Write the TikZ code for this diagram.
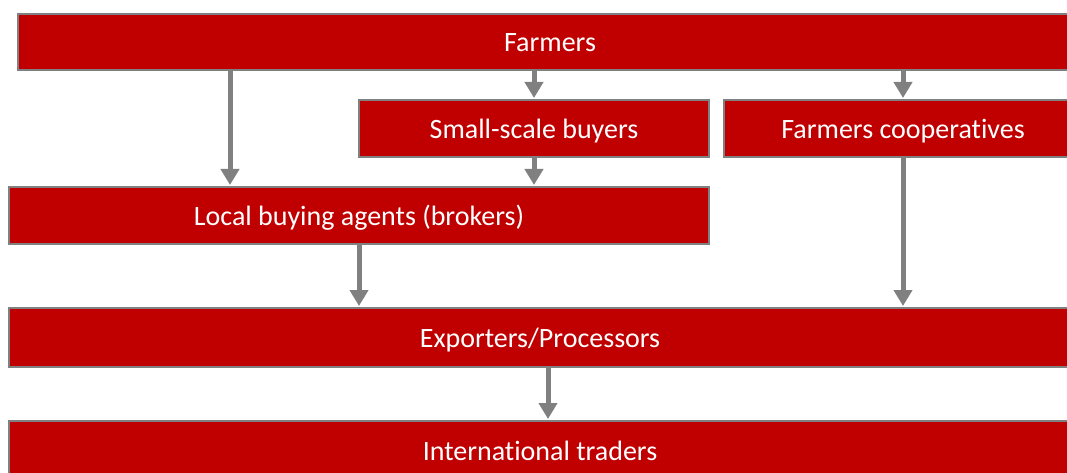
\documentclass[tikz,border=0pt]{standalone}
\usepackage{fontspec}
\setmainfont{Carlito}[Ligatures=CommonOff]
\usetikzlibrary{arrows.meta}
\definecolor{boxred}{RGB}{192,0,0}
\definecolor{linegray}{RGB}{128,128,128}
\tikzset{
  chainbox/.style={draw=linegray, line width=2pt, fill=boxred, text=white,
    inner sep=0pt, outer sep=0pt, text height=22pt, text depth=2pt,
    font=\fontsize{28}{32}\selectfont},
  flow/.style={draw=linegray, line width=5pt,
    -{Triangle[width=18pt,length=16pt]}, shorten >=2pt}
}
\begin{document}
\begin{tikzpicture}[x=1pt,y=-1pt]
\useasboundingbox (0,0) rectangle (1067,473);
\clip (0,0) rectangle (1067,473);
\node[chainbox, minimum width=1064pt, minimum height=56pt] (farmers) at (550,42) {Farmers};
\node[chainbox, minimum width=350pt, minimum height=57pt] (small) at (534,128.5) {Small-scale buyers};
\node[chainbox, minimum width=358pt, minimum height=57pt] (coop) at (903,128.5) {Farmers cooperatives};
\node[chainbox, minimum width=700pt, minimum height=57pt] (local) at (359,215.5) {Local buying agents (brokers)};
\node[chainbox, minimum width=1062pt, minimum height=59pt] (exp) at (540,337.5) {Exporters/Processors};
\node[chainbox, minimum width=1062pt, minimum height=59pt] (intl) at (540,450.5) {International traders};
\draw[flow] (farmers.south -| 230,0) -- (local.north -| 230,0);
\draw[flow] (farmers.south -| small.north) -- (small.north);
\draw[flow] (farmers.south -| coop.north) -- (coop.north);
\draw[flow] (small.south) -- (local.north -| small.south);
\draw[flow] (local.south) -- (exp.north -| local.south);
\draw[flow] (coop.south) -- (exp.north -| coop.south);
\draw[flow] (exp.south -| 548,0) -- (intl.north -| 548,0);
\end{tikzpicture}
\end{document}
